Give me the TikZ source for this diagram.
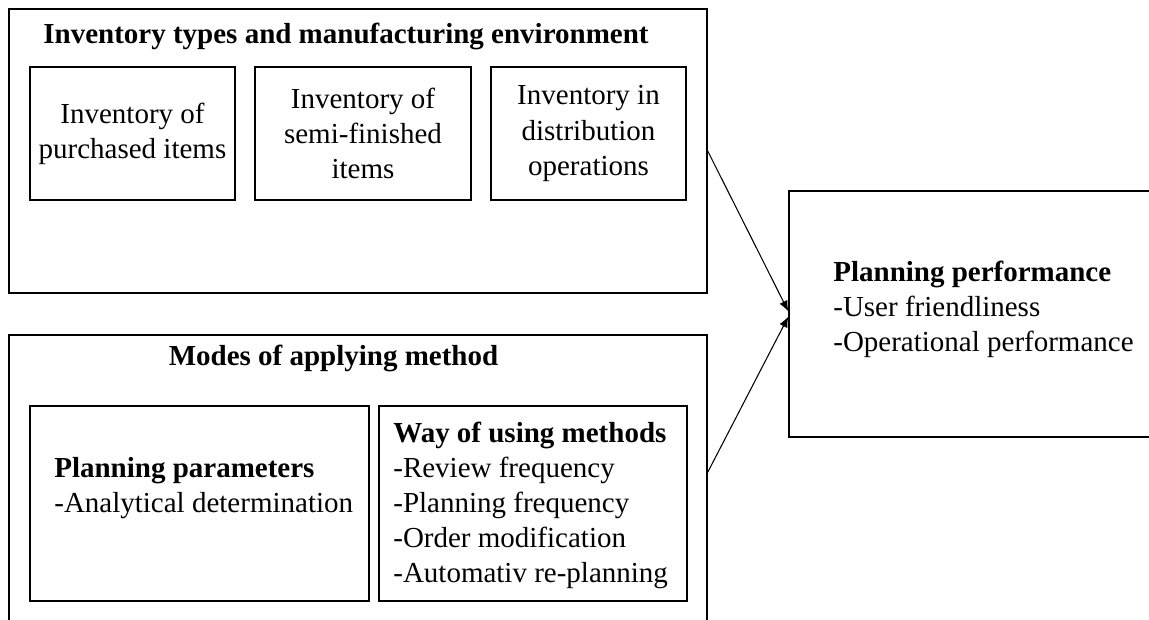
\documentclass[tikz,border=0pt]{standalone}
\usepackage{fontspec}
\setmainfont{Liberation Serif}
\usetikzlibrary{arrows.meta}

\begin{document}
\begin{tikzpicture}[
    frame/.style={draw, line width=0.8pt, inner sep=0pt, align=center},
    txt/.style={inner sep=0pt, align=left, anchor=west},
    every node/.style={font=\fontsize{16.5}{20}\selectfont},
    arr/.style={line width=0.6pt, -{Latex[length=6pt,width=5pt]}}
  ]
        \useasboundingbox (0,0) rectangle (22.98,12.38);
        \clip (0,0) rectangle (22.98,12.38);

        %Inventory types
        \node [frame, minimum width=13.96cm, minimum height=5.68cm] (inv) at (7.16,9.36) {};
        \node [inner sep=0pt, font=\fontsize{16.5}{20}\selectfont\bfseries] (invtitle) at (6.92,11.65) {Inventory types and manufacturing environment};
        \node [frame, minimum width=4.10cm, minimum height=2.66cm] (purch) at (2.65,9.71) {Inventory of\\purchased items};
        \node [frame, minimum width=4.32cm, minimum height=2.66cm] (semi) at (7.26,9.71) {Inventory of\\semi-finished\\items};
        \node [frame, minimum width=3.90cm, minimum height=2.66cm] (distr) at (11.77,9.71) {Inventory in\\distribution\\operations};

        %Modes of applying
        \node [frame, minimum width=13.96cm, minimum height=6.18cm] (modes) at (7.16,2.59) {};
        \node [inner sep=0pt, font=\fontsize{16.5}{20}\selectfont\bfseries] (modestitle) at (6.67,5.21) {Modes of applying method};
        \node [frame, minimum width=6.78cm, minimum height=3.90cm] (params) at (3.99,2.31) {};
        \node [txt] (paramstxt) at (1.08,2.62) {\textbf{Planning parameters}\\-Analytical determination};
        \node [frame, minimum width=6.16cm, minimum height=3.90cm] (usage) at (10.66,2.31) {};
        \node [txt] (usagetxt) at (7.86,2.27) {\textbf{Way of using methods}\\-Review frequency\\-Planning frequency\\-Order modification\\-Automativ re-planning};

        %Planning performance
        \node [frame, minimum width=7.72cm, minimum height=4.92cm] (perf) at (19.64,6.10) {};
        \node [txt] (perftxt) at (16.66,6.19) {\textbf{Planning performance}\\-User friendliness\\-Operational performance};

        %Arrows
        \coordinate (modesout) at ([yshift=-2.76cm]modes.north east);
        \draw [arr] (inv.east) -- ([yshift=1.5pt]perf.west);
        \draw [arr] (modesout) -- ([yshift=-1.5pt]perf.west);
\end{tikzpicture}
\end{document}
